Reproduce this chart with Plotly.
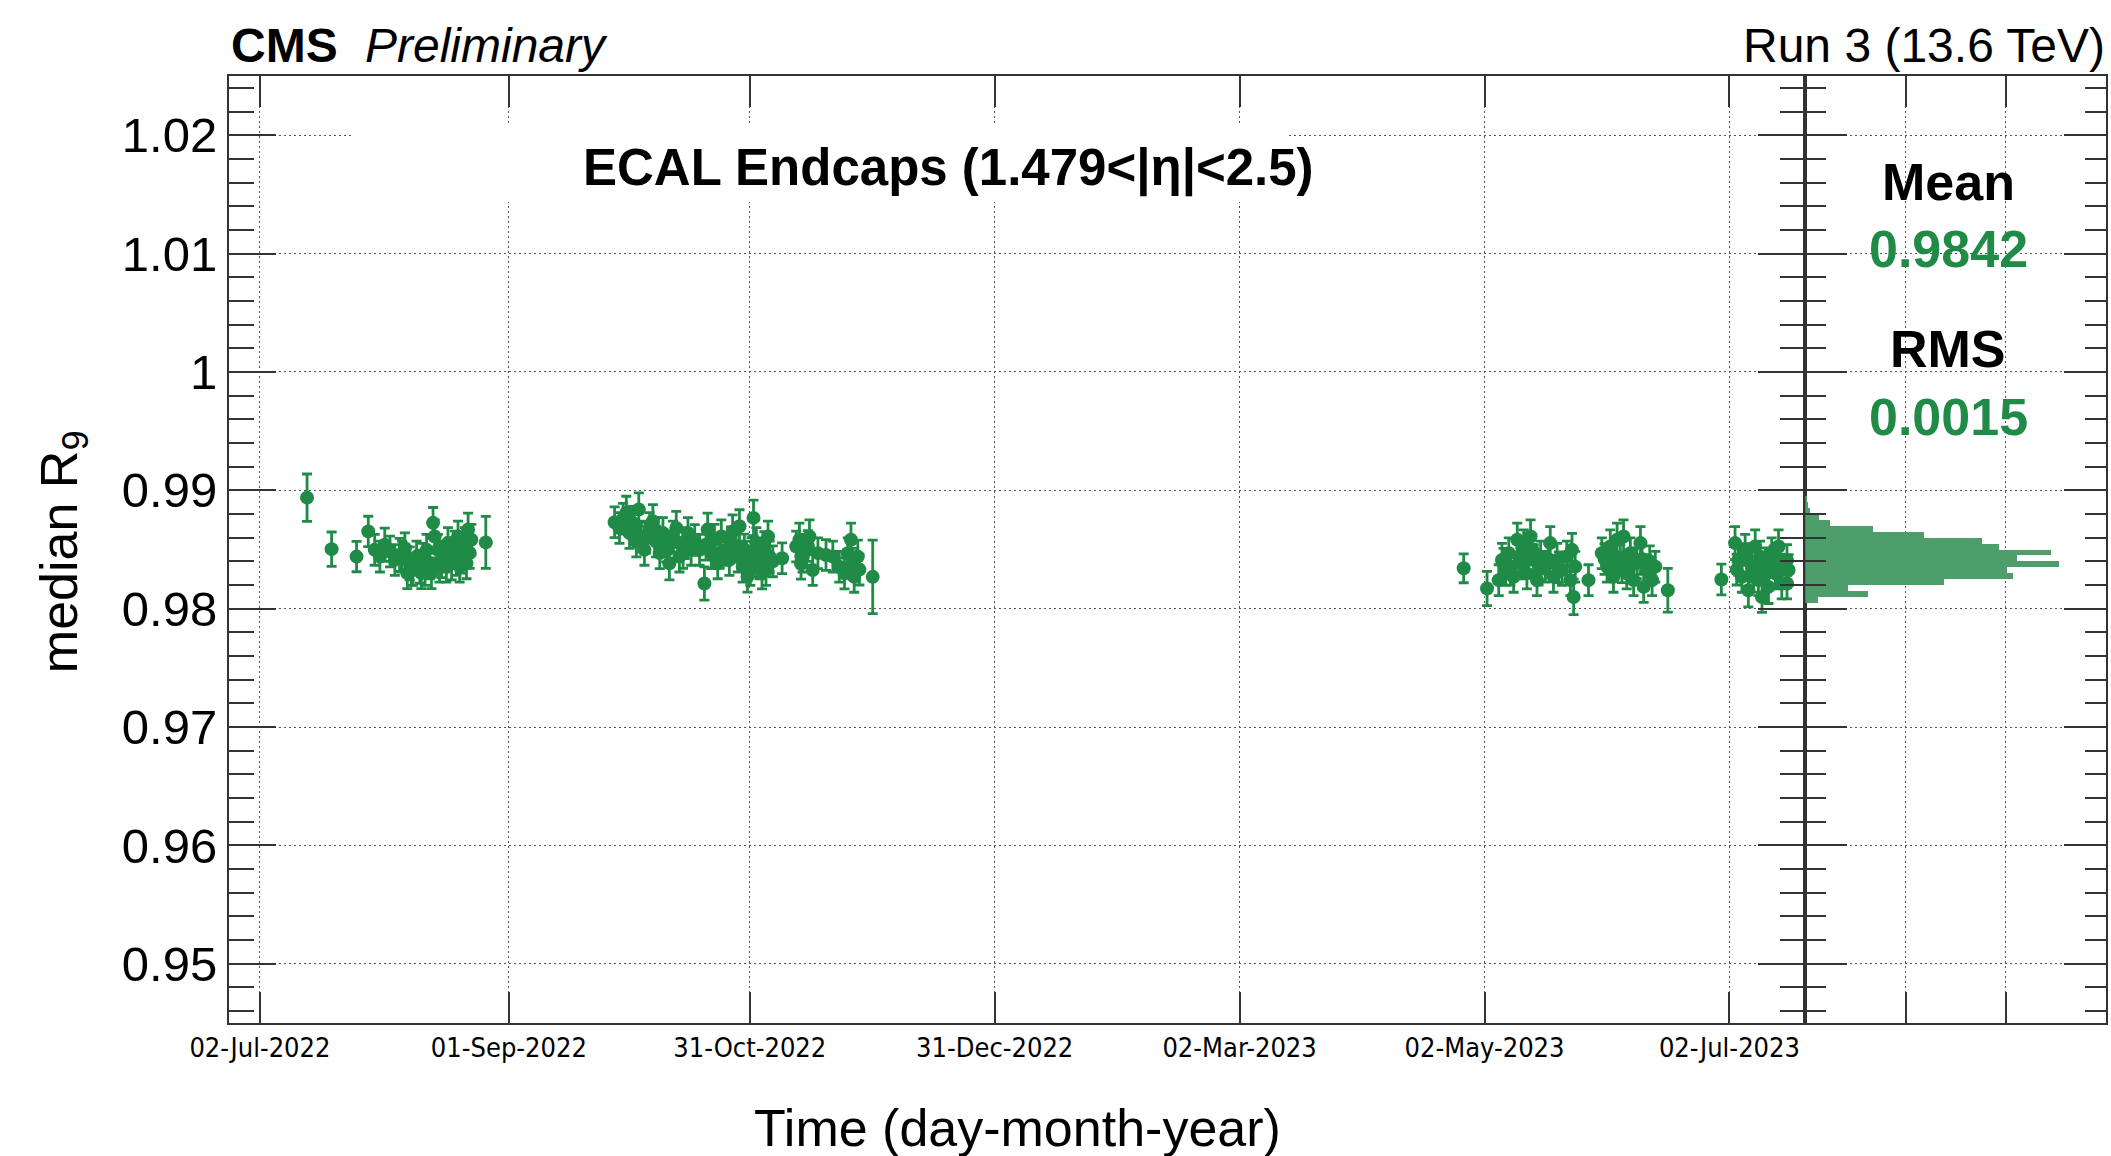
import plotly.graph_objects as go
import pandas as pd

# ---------------- data ----------------
BASE_DATE = "2022-07-02"

# cluster 1 : Jul-Aug 2022  (days since 02-Jul-2022)
c1_day = [11.7, 17.8, 24.0, 26.9, 28.5, 29.8, 31.0, 32.3, 33.5, 34.7,
          36.0, 37.2, 37.6, 38.0, 38.9, 39.7, 40.1, 40.5, 41.4, 42.2,
          43.0, 43.4, 44.2, 45.1, 45.9, 46.3, 46.7, 47.6, 48.4, 49.2,
          49.6, 50.0, 50.9, 51.7, 52.5, 56.1,
          35.3, 36.6, 41.0, 42.6, 44.6, 47.2, 48.8, 50.4, 51.3, 52.1]
c1_r9 = [0.98938, 0.98503, 0.98440, 0.98653, 0.98497, 0.98440, 0.98540, 0.98483, 0.98412, 0.98454,
         0.98511, 0.98383, 0.98327, 0.98327, 0.98440, 0.98355, 0.98300, 0.98412, 0.98497, 0.98383,
         0.98725, 0.98610, 0.98497, 0.98412, 0.98440, 0.98355, 0.98554, 0.98383, 0.98525, 0.98610,
         0.98355, 0.98440, 0.98554, 0.98668, 0.98582, 0.98560,
         0.98440, 0.98300, 0.98327, 0.98300, 0.98355, 0.98470, 0.98412, 0.98497, 0.98383, 0.98470]
c1_dx = [3.6, 3.0, 2.9, 1.0, 0.9, 0.9, 1.0, 0.9, 0.9, 1.0,
         0.9, 0.9, 0.8, 0.8, 0.9, 0.9, 0.8, 0.9, 0.9, 0.9,
         1.0, 0.8, 0.9, 0.9, 0.9, 0.8, 0.9, 0.9, 0.9, 0.9,
         0.8, 0.9, 0.9, 1.0, 0.9, 3.1,
         0.9, 0.9, 0.9, 0.9, 0.9, 0.9, 0.9, 0.9, 0.9, 0.9]
c1_dy = [0.0020, 0.00145, 0.00128, 0.00128, 0.0013, 0.0013, 0.0014, 0.0013, 0.0013, 0.0014,
         0.0013, 0.0014, 0.0013, 0.0013, 0.0013, 0.0014, 0.0013, 0.0014, 0.0013, 0.0013,
         0.0013, 0.0014, 0.0013, 0.0015, 0.0013, 0.0013, 0.0013, 0.0014, 0.0013, 0.0013,
         0.0013, 0.0014, 0.0013, 0.0014, 0.0013, 0.0022,
         0.0013, 0.0013, 0.0013, 0.0013, 0.0013, 0.0013, 0.0013, 0.0013, 0.0013, 0.0013]

# cluster 2 : Sep-Nov 2022
c2_day = [88.1, 89.3, 91.0, 91.8, 92.6, 93.5, 94.1, 94.7, 95.5, 96.8,
          97.6, 98.4, 99.3, 100.1, 100.9, 101.7, 102.6, 103.4, 104.2, 105.5,
          106.3, 107.1, 109.2, 110.4, 111.2, 112.1, 112.9, 113.7, 114.6, 115.8,
          116.6, 117.4, 118.3, 119.1, 119.9, 120.8, 121.8, 122.6, 123.3, 124.1,
          124.9, 125.7, 126.6, 129.7, 133.2, 134.0, 134.8, 135.7, 136.5, 137.3,
          138.6, 140.6, 142.3, 143.9, 145.2, 146.0, 146.8, 147.6, 148.5, 152.2,
          124.7, 121.1, 126.2,
          90.2, 93.0, 95.9, 98.9, 101.3, 103.8, 105.1, 108.0, 110.8, 114.2,
          117.0, 118.7, 120.3, 122.1, 123.7, 125.3, 127.4, 134.4, 136.1, 147.2, 148.9]
c2_r9 = [0.98730, 0.98682, 0.98810, 0.98640, 0.98725, 0.98568, 0.98838, 0.98610, 0.98497, 0.98682,
         0.98739, 0.98568, 0.98469, 0.98640, 0.98525, 0.98383, 0.98610, 0.98682, 0.98440, 0.98554,
         0.98640, 0.98497, 0.98497, 0.98213, 0.98668, 0.98469, 0.98582, 0.98383, 0.98610, 0.98497,
         0.98412, 0.98653, 0.98525, 0.98696, 0.98355, 0.98440, 0.98327, 0.98767, 0.98554, 0.98383,
         0.98469, 0.98327, 0.98440, 0.98426, 0.98525, 0.98582, 0.98440, 0.98497, 0.98610, 0.98327,
         0.98469, 0.98454, 0.98440, 0.98355, 0.98298, 0.98469, 0.98582, 0.98269, 0.98440, 0.98269,
         0.98298, 0.98270, 0.98610,
         0.98760, 0.98700, 0.98600, 0.98640, 0.98500, 0.98560, 0.98470, 0.98580, 0.98540, 0.98470,
         0.98560, 0.98440, 0.98500, 0.98470, 0.98400, 0.98520, 0.98400, 0.98380, 0.98530, 0.98380, 0.98330]
c2_dx = [1.7, 0.9, 0.9, 0.9, 0.9, 0.9, 0.9, 0.9, 0.9, 0.9,
         0.9, 0.9, 0.9, 0.9, 0.9, 0.9, 0.9, 0.9, 0.9, 0.9,
         0.9, 0.9, 0.9, 0.9, 0.9, 0.9, 0.9, 0.9, 0.9, 0.9,
         0.9, 0.9, 0.9, 0.9, 0.9, 0.9, 0.9, 0.9, 0.9, 0.9,
         0.9, 0.9, 0.9, 2.2, 0.9, 0.9, 0.9, 0.9, 0.9, 0.9,
         0.9, 0.9, 0.9, 0.9, 0.9, 0.9, 0.9, 0.9, 0.9, 3.1,
         0.9, 0.9, 0.9,
         0.9, 0.9, 0.9, 0.9, 0.9, 0.9, 0.9, 0.9, 0.9, 0.9,
         0.9, 0.9, 0.9, 0.9, 0.9, 0.9, 0.9, 0.9, 0.9, 0.9, 0.9]
c2_dy = [0.0013, 0.0013, 0.0014, 0.0013, 0.0014, 0.0013, 0.0014, 0.0013, 0.0013, 0.0013,
         0.0014, 0.0013, 0.0013, 0.0013, 0.0013, 0.0014, 0.0013, 0.0014, 0.0013, 0.0013,
         0.0013, 0.0013, 0.0013, 0.0014, 0.0014, 0.0013, 0.0013, 0.0013, 0.0014, 0.0013,
         0.0013, 0.0014, 0.0013, 0.0014, 0.0013, 0.0013, 0.0013, 0.0015, 0.0013, 0.0013,
         0.0013, 0.0013, 0.0013, 0.0013, 0.0013, 0.0014, 0.0013, 0.0013, 0.0014, 0.0013,
         0.0013, 0.0013, 0.0013, 0.0013, 0.0013, 0.0013, 0.0014, 0.0013, 0.0014, 0.0031,
         0.0013, 0.0013, 0.0013,
         0.0013, 0.0013, 0.0013, 0.0013, 0.0013, 0.0013, 0.0013, 0.0013, 0.0013, 0.0013,
         0.0013, 0.0013, 0.0013, 0.0013, 0.0013, 0.0013, 0.0013, 0.0013, 0.0013, 0.0013, 0.0013]

# cluster 3 : Apr-Jun 2023
c3_day = [299.0, 304.8, 307.7, 308.5, 309.4, 310.2, 311.4, 312.3, 313.1, 313.9,
          314.7, 315.6, 316.4, 317.2, 318.1, 319.3, 320.5, 321.3, 322.2, 323.4,
          324.6, 325.5, 325.9, 326.3, 326.7, 330.0, 333.3, 334.6, 335.4, 336.2,
          337.1, 337.9, 338.7, 339.5, 340.4, 341.2, 342.0, 342.9, 343.7, 344.5,
          345.8, 346.6, 349.7,
          308.9, 310.6, 312.7, 314.3, 316.0, 317.6, 320.0, 322.6, 334.0, 336.6,
          338.3, 340.8, 343.3, 345.2]
c3_r9 = [0.98341, 0.98171, 0.98241, 0.98412, 0.98327, 0.98469, 0.98269, 0.98582, 0.98383, 0.98525,
         0.98298, 0.98610, 0.98412, 0.98241, 0.98440, 0.98355, 0.98554, 0.98269, 0.98412, 0.98327,
         0.98440, 0.98241, 0.98497, 0.98099, 0.98355, 0.98241, 0.98469, 0.98355, 0.98525, 0.98269,
         0.98582, 0.98412, 0.98610, 0.98298, 0.98469, 0.98241, 0.98383, 0.98554, 0.98184, 0.98327,
         0.98241, 0.98355, 0.98156,
         0.98380, 0.98330, 0.98440, 0.98400, 0.98500, 0.98330, 0.98420, 0.98350, 0.98420, 0.98440,
         0.98350, 0.98380, 0.98420, 0.98400]
c3_dx = [3.6, 3.0, 0.9, 0.9, 0.9, 0.9, 0.9, 0.9, 0.9, 0.9,
         0.9, 0.9, 0.9, 0.9, 0.9, 0.9, 0.9, 0.9, 0.9, 0.9,
         0.9, 0.9, 0.9, 0.9, 0.9, 3.0, 0.9, 0.9, 0.9, 0.9,
         0.9, 0.9, 0.9, 0.9, 0.9, 0.9, 0.9, 0.9, 0.9, 0.9,
         0.9, 0.9, 3.3,
         0.9, 0.9, 0.9, 0.9, 0.9, 0.9, 0.9, 0.9, 0.9, 0.9,
         0.9, 0.9, 0.9, 0.9]
c3_dy = [0.00122, 0.00145, 0.0013, 0.0014, 0.0013, 0.0013, 0.0013, 0.0014, 0.0013, 0.0014,
         0.0013, 0.0014, 0.0013, 0.0013, 0.0013, 0.0013, 0.0014, 0.0013, 0.0014, 0.0013,
         0.0013, 0.0013, 0.0014, 0.0015, 0.0013, 0.0013, 0.0013, 0.0013, 0.0014, 0.0013,
         0.0014, 0.0013, 0.0014, 0.0013, 0.0013, 0.0013, 0.0013, 0.0014, 0.0013, 0.0013,
         0.0013, 0.0013, 0.00185,
         0.0013, 0.0013, 0.0013, 0.0013, 0.0013, 0.0013, 0.0013, 0.0013, 0.0013, 0.0013,
         0.0013, 0.0013, 0.0013, 0.0013]

# cluster 4 : Jul 2023
c4_day = [363.0, 366.4, 367.2, 368.1, 368.9, 369.7, 370.6, 371.4, 372.2, 373.1,
          373.9, 374.7, 375.5, 376.4, 377.2, 378.0, 379.3, 379.3, 379.7,
          366.8, 369.3, 371.0, 372.6, 374.3, 376.0, 377.6]
c4_r9 = [0.98247, 0.98554, 0.98412, 0.98269, 0.98497, 0.98156, 0.98355, 0.98525, 0.98241, 0.98099,
         0.98383, 0.98184, 0.98469, 0.98298, 0.98525, 0.98213, 0.98412, 0.98213, 0.98327,
         0.98330, 0.98420, 0.98270, 0.98440, 0.98300, 0.98400, 0.98330]
c4_dx = [3.1, 0.9, 0.9, 0.9, 0.9, 0.9, 0.9, 0.9, 0.9, 0.9,
         0.9, 0.9, 0.9, 0.9, 0.9, 0.9, 0.9, 0.9, 0.9,
         0.9, 0.9, 0.9, 0.9, 0.9, 0.9, 0.9]
c4_dy = [0.0013, 0.0014, 0.0013, 0.0013, 0.0013, 0.0014, 0.0013, 0.0014, 0.0013, 0.0013,
         0.0013, 0.0014, 0.0013, 0.0013, 0.0014, 0.0013, 0.0013, 0.0013, 0.0013,
         0.0013, 0.0013, 0.0013, 0.0013, 0.0013, 0.0013, 0.0013]

# projected distribution (right panel), bin width 0.0005
hist_bin_center = [0.98925, 0.98875, 0.98825, 0.98775, 0.98725, 0.98675, 0.98625, 0.98575, 0.98525,
                   0.98475, 0.98425, 0.98375, 0.98325, 0.98275, 0.98225, 0.98175, 0.98125, 0.98075]
hist_weight = [0.2, 0.33, 0.5, 1.43, 2.49, 6.81, 11.9, 17.7, 19.4,
               24.5, 21.2, 25.3, 20.2, 20.8, 13.9, 4.32, 6.31, 1.26]

tick_dates = ["2022-07-02 00:00", "2022-09-01 20:00", "2022-10-31 16:00", "2022-12-31 12:00",
              "2023-03-02 08:00", "2023-05-02 04:00", "2023-07-02 00:00"]
tick_labels = ["02-Jul-2022", "01-Sep-2022", "31-Oct-2022", "31-Dec-2022",
               "02-Mar-2023", "02-May-2023", "02-Jul-2023"]
y_major = [0.95, 0.96, 0.97, 0.98, 0.99, 1.00, 1.01, 1.02]
y_major_text = ["0.95", "0.96", "0.97", "0.98", "0.99", "1", "1.01", "1.02"]
mean_value = "0.9842"
rms_value = "0.0015"

# ---------------- figure ----------------
W, H = 2111, 1156
ML, MR, MT, MB = 229, 3, 76, 133
PW = W - ML - MR
PH = H - MT - MB
SPLIT = (1807 - ML) / PW
X_RANGE = ["2022-06-24 07:30", "2023-07-20 20:30"]
Y_RANGE = [0.945, 1.025]


def px(xpix):
    return (xpix - ML) / PW


def py(ypix):
    return (H - MB - ypix) / PH


GREEN = "#1f8b47"
HISTC = "#4d9e6b"
AX = "#333333"
GRID = "#555555"
FONT = "Liberation Sans, Arial, Helvetica, sans-serif"
NARROW = "Liberation Sans Narrow, Arial Narrow, DejaVu Sans Condensed, Liberation Sans, sans-serif"

days = c1_day + c2_day + c3_day + c4_day
r9 = c1_r9 + c2_r9 + c3_r9 + c4_r9
dx = c1_dx + c2_dx + c3_dx + c4_dx
dy = c1_dy + c2_dy + c3_dy + c4_dy

base = pd.Timestamp(BASE_DATE)
dates = [(base + pd.Timedelta(days=d)).strftime("%Y-%m-%d %H:%M:%S") for d in days]
dx_ms = [d * 86400000.0 for d in dx]

minor_vals = [round(0.946 + 0.002 * i, 3) for i in range(40)]
minor_vals = [v for v in minor_vals if v <= 1.025 and round(v * 100, 6) % 1 != 0]

fig = go.Figure()

fig.add_trace(go.Scatter(
    x=dates, y=r9, mode="markers",
    marker=dict(color=GREEN, size=14, line=dict(width=0)),
    error_x=dict(type="data", array=dx_ms, color=GREEN, thickness=2.8, width=5),
    error_y=dict(type="data", array=dy, color=GREEN, thickness=2.8, width=5),
    xaxis="x", yaxis="y", showlegend=False,
))

fig.add_trace(go.Bar(
    x=hist_weight, y=hist_bin_center, orientation="h", width=0.0005,
    marker=dict(color=HISTC, line=dict(width=0)),
    xaxis="x2", yaxis="y2", showlegend=False,
))

common_axis = dict(showline=True, linewidth=2, linecolor=AX, mirror="ticks",
                   ticks="inside", tickwidth=2, tickcolor=AX,
                   showgrid=True, gridcolor=GRID, gridwidth=1, griddash="2px,3px",
                   zeroline=False)

fig.update_layout(
    width=W, height=H,
    margin=dict(l=ML, r=MR, t=MT, b=MB, pad=0),
    paper_bgcolor="white", plot_bgcolor="white",
    font=dict(family=FONT, color="black"),
    bargap=0,
    xaxis=dict(domain=[0, SPLIT], anchor="y", type="date", range=X_RANGE,
               tickmode="array", tickvals=tick_dates, ticktext=tick_labels,
               ticklen=31, tickfont=dict(family=NARROW, size=27, color="black"),
               **common_axis),
    yaxis=dict(domain=[0, 1], anchor="x", range=Y_RANGE,
               tickmode="array", tickvals=y_major, ticktext=y_major_text,
               ticklen=47, tickfont=dict(family=FONT, size=49, color="black"),
               minor=dict(tickmode="array", tickvals=minor_vals, ticks="inside",
                          ticklen=25, tickwidth=2, tickcolor=AX, showgrid=False),
               **common_axis),
    xaxis2=dict(domain=[SPLIT, 1], anchor="y2", range=[0, 30],
                tickmode="array", tickvals=[10, 20], showticklabels=False,
                ticklen=31, **common_axis),
    yaxis2=dict(domain=[0, 1], anchor="x2", matches="y", range=Y_RANGE,
                tickmode="array", tickvals=y_major, showticklabels=False,
                ticklen=42,
                minor=dict(tickmode="array", tickvals=minor_vals, ticks="inside",
                           ticklen=21, tickwidth=2, tickcolor=AX, showgrid=False),
                **common_axis),
)

# white pad behind the ECAL label (hides the grid there), in data coordinates
x0_ts = pd.Timestamp(X_RANGE[0])
x1_ts = pd.Timestamp(X_RANGE[1])


def xdate(frac):
    return (x0_ts + (x1_ts - x0_ts) * frac).strftime("%Y-%m-%d %H:%M:%S")


def yval(frac):
    return Y_RANGE[0] + (Y_RANGE[1] - Y_RANGE[0]) * frac


fig.add_shape(type="rect", xref="x", yref="y",
              x0=xdate(px(353) / SPLIT), x1=xdate(px(1290) / SPLIT),
              y0=yval(py(202)), y1=yval(py(123)),
              fillcolor="white", line=dict(width=0), layer="between")

ann = [
    dict(text="<b>CMS</b>", x=px(229), y=py(46), xanchor="left", yanchor="middle",
         font=dict(size=48)),
    dict(text="<i>Preliminary</i>", x=px(363), y=py(46), xanchor="left", yanchor="middle",
         font=dict(size=48)),
    dict(text="Run 3 (13.6 TeV)", x=px(2109), y=py(46), xanchor="right", yanchor="middle",
         font=dict(size=48)),
    dict(text="<b>ECAL Endcaps (1.479<|η|<2.5)</b>", x=px(949), y=py(168),
         xanchor="center", yanchor="middle", font=dict(size=51)),
    dict(text="<b>Mean</b>", x=px(1950), y=py(182), xanchor="center", yanchor="middle",
         font=dict(size=52)),
    dict(text="<b>" + mean_value + "</b>", x=px(1950), y=py(249), xanchor="center",
         yanchor="middle", font=dict(size=52, color=GREEN)),
    dict(text="<b>RMS</b>", x=px(1950), y=py(349), xanchor="center", yanchor="middle",
         font=dict(size=52)),
    dict(text="<b>" + rms_value + "</b>", x=px(1950), y=py(417), xanchor="center",
         yanchor="middle", font=dict(size=52, color=GREEN)),
    dict(text="Time (day-month-year)", x=px(1018), y=py(1128), xanchor="center",
         yanchor="middle", font=dict(size=52)),
    dict(text="median R<sub>9</sub>", x=px(63), y=py(552), xanchor="center",
         yanchor="middle", textangle=-90, font=dict(size=52)),
]
for a in ann:
    a.update(xref="paper", yref="paper", showarrow=False)
    fig.add_annotation(**a)

fig.write_html(
    "out.html",
    config={"displayModeBar": False},
    post_script="document.body.style.margin='0px';document.body.style.overflow='hidden';",
)
